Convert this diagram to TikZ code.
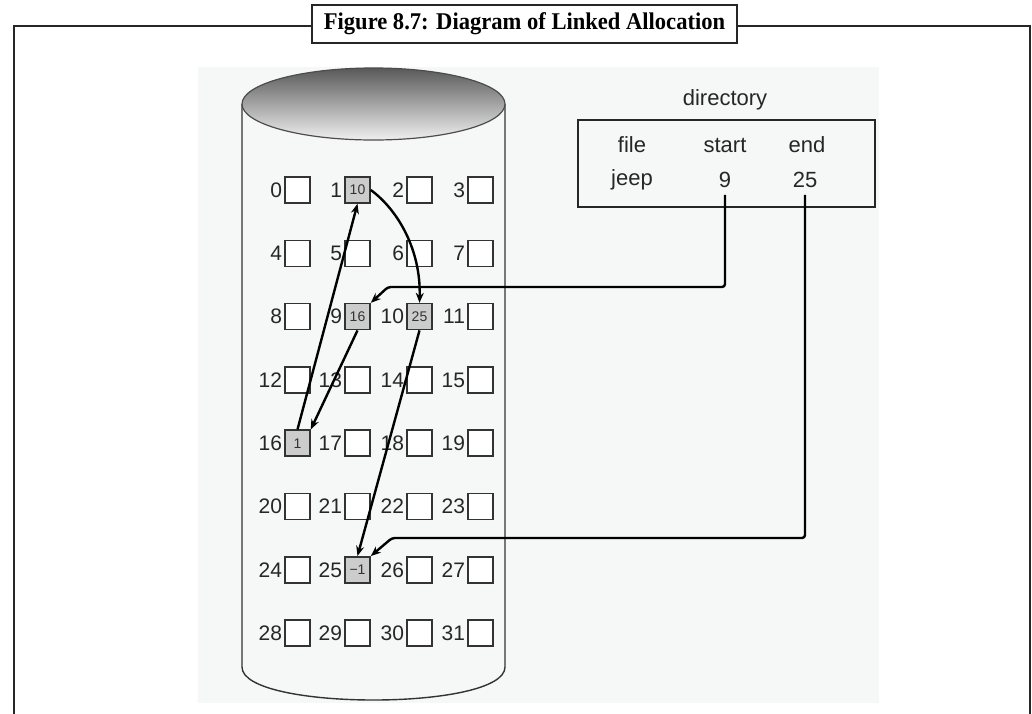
\documentclass[tikz,border=0pt]{standalone}
\usepackage{fontspec}
\setmainfont{Liberation Sans}
\newfontfamily\titlefont{Liberation Serif}
\usetikzlibrary{arrows.meta}
\definecolor{panelgray}{HTML}{F6F7F7}
\definecolor{usedgray}{HTML}{CCCCCC}
\begin{document}
\begin{tikzpicture}[x=1pt,y=-1pt,
  frame/.style={line width=2.6pt, draw=black!85},
  cell/.style={draw=black!80, line width=1.6pt, minimum width=25pt, minimum height=26pt,
    inner sep=0pt, fill=white, font=\fontsize{14}{14}\selectfont, text=black!80},
  used/.style={fill=usedgray},
  setval/.code={\def\cv{#1}},
  c1/.style={used, setval=10},
  c9/.style={used, setval=16},
  c10/.style={used, setval=25},
  c16/.style={used, setval=1},
  c25/.style={used, setval=−1},
  lbl/.style={anchor=east, inner sep=0pt, font=\fontsize{21}{21}\selectfont, text=black!85},
  dtext/.style={inner sep=0pt, font=\fontsize{22}{22}\selectfont, text=black!85},
  link/.style={line width=2.4pt, draw=black, -{Stealth[length=10pt,width=8pt]}}
]
\useasboundingbox (0,0) rectangle (1032,713);

% light panel behind the drawing
\fill[panelgray] (198,67) rectangle (879,703);

% outer frame with the caption box on its top edge
\draw[frame] (312,26) -| (14,716);
\draw[frame] (737,26) -| (1030,716);
\node[frame, fill=white, minimum width=425pt, minimum height=38pt, inner sep=0pt] (title) at (524.5,24)
  {\titlefont\bfseries\fontsize{24}{24}\selectfont\scalebox{0.94}[1]{Figure 8.7: Diagram of Linked Allocation}};

% disk cylinder
\draw[line width=1.4pt, black!80] (242,104) -- (242,667) .. controls (242,711) and (505,711) .. (505,667) -- (505,104);
\shade[top color=black!65, bottom color=black!6] (373.5,104) ellipse[x radius=131.5, y radius=36];
\draw[line width=1.2pt, black!70] (373.5,104) ellipse[x radius=131.5, y radius=36];

% disk blocks 0..31
\foreach \n in {0,...,31}{
  \pgfmathtruncatemacro{\r}{int(\n/4)}
  \pgfmathtruncatemacro{\c}{mod(\n,4)}
  \pgfmathsetmacro{\x}{{297.5,357.5,419.5,480.5}[\c]}
  \pgfmathsetmacro{\y}{190+63.3*\r}
  \node[cell, setval={}, c\n/.try] (b\n) at (\x,\y) {\cv};
  \node[lbl] (l\n) at ([xshift=-2pt]b\n.west) {\n};
}

% directory table
\node[dtext] (dname) at (725,100) {directory};
\node[draw=black!85, line width=2pt, minimum width=297pt, minimum height=87pt, inner sep=0pt] (dir) at (726.5,163.5) {};
\node[dtext] (hfile) at (632,145) {file};
\node[dtext] (hstart) at (725,145) {start};
\node[dtext] (hend) at (807,145) {end};
\node[dtext] (fjeep) at (632,180) {jeep};
\node[dtext] (s9) at (725,180) {9};
\node[dtext] (e25) at (805,180) {25};

% pointers from the directory
\coordinate (sturn) at (388,287);
\coordinate (eturn) at (392,538);
\draw[link, shorten <=7pt, rounded corners=3pt] (s9.south) |- (sturn) -- (b9.north east);
\draw[link, shorten <=7pt, rounded corners=3pt] (e25.south) |- (eturn) -- (b25.north east);

% block chain 9 -> 16 -> 1 -> 10 -> 25
\draw[link] (b9.south) -- (b16.north east);
\draw[link] (b16.north) -- (b1.south);
\draw[link] (b1.east) .. controls (398,210) and (421,250) .. (b10.north);
\draw[link] (b10.south) -- (b25.north);
\end{tikzpicture}
\end{document}
